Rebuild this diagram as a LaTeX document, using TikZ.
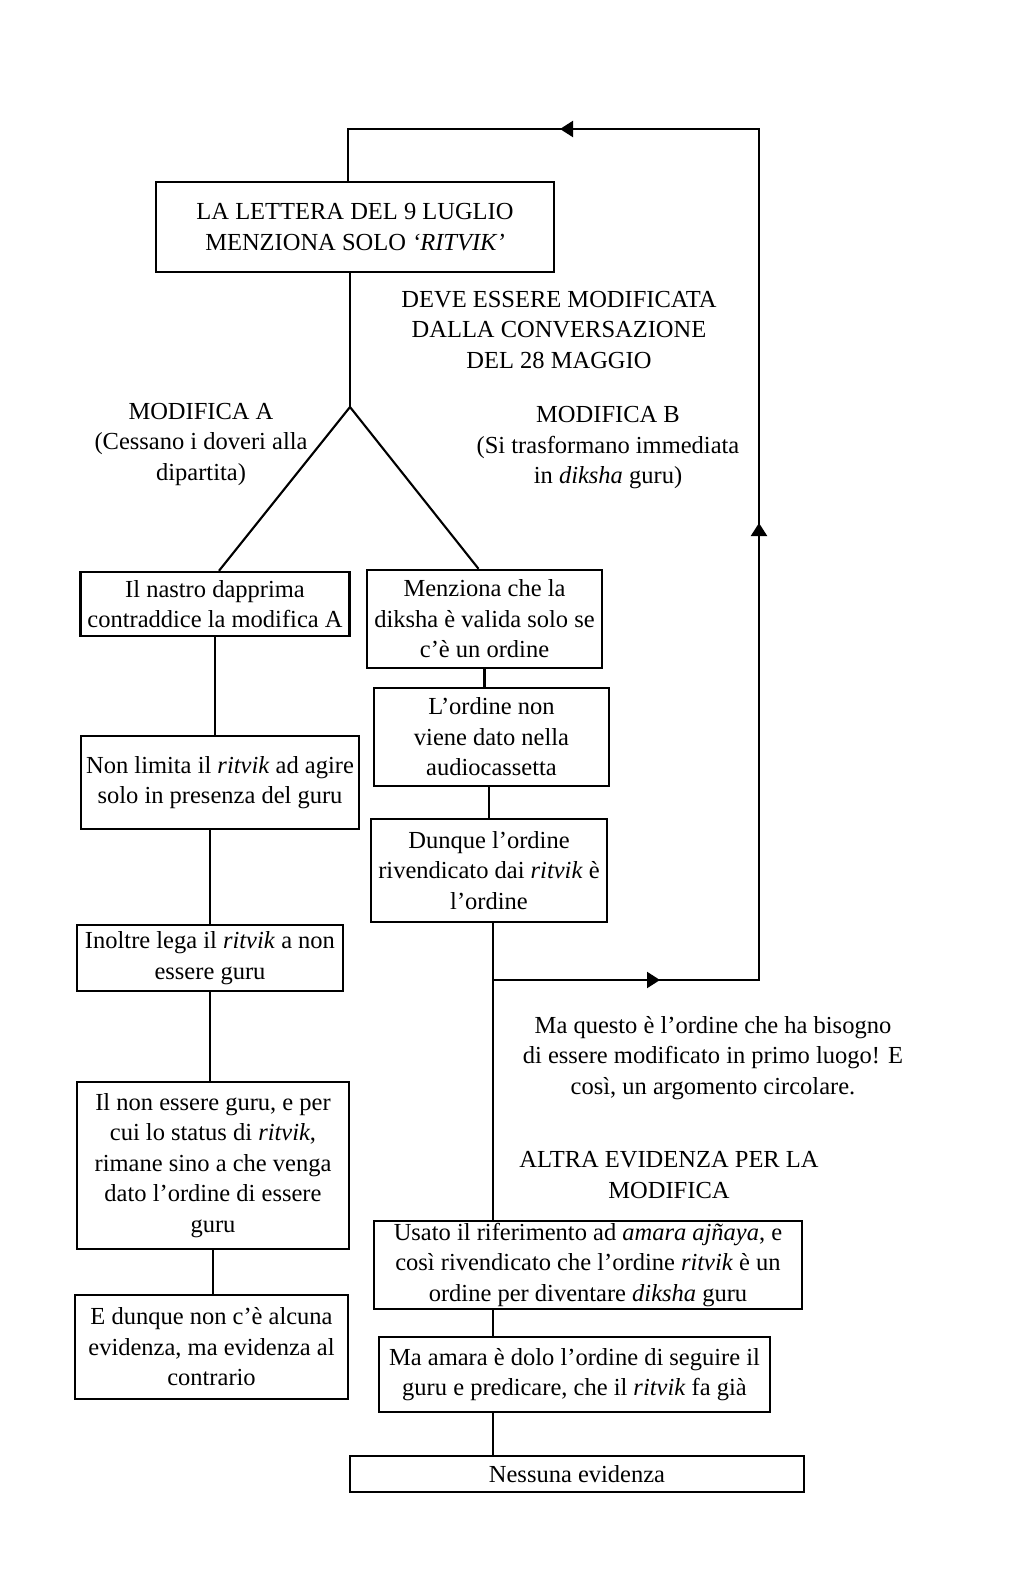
\documentclass[tikz,border=0pt]{standalone}
\usepackage{fontspec}
\setmainfont{Liberation Serif}
\usetikzlibrary{arrows.meta,decorations.markings}

\begin{document}
\begin{tikzpicture}[x=1pt, y=-1pt, line width=2.1pt, >={Triangle[length=13pt, width=16pt]},
  every node/.style={font=\fontsize{24.5pt}{30.5pt}\selectfont},
  box/.style={draw, line width=2.5pt, rectangle, inner sep=0pt, align=center},
  lbl/.style={align=center, inner sep=0pt},
  loopback/.style={postaction={decorate}, decoration={markings,
    mark=at position 167pt with {\arrow{>}},
    mark=at position 723pt with {\arrow{>}},
    mark=at position 1316pt with {\arrow{>}}}}]
\useasboundingbox (0,0) rectangle (1024,1575);

\node[box, minimum width=398, minimum height=90] (b0) at (355,227) {LA LETTERA DEL 9 LUGLIO\\MENZIONA SOLO \textit{‘RITVIK’}};
\node[lbl] (deve) at (559,330) {DEVE ESSERE MODIFICATA\\DALLA CONVERSAZIONE\\DEL 28 MAGGIO};
\node[lbl] (modA) at (201,444) {MODIFICA A\\(Cessano i doveri alla\\dipartita)};
\node[lbl] (modB) at (608,448) {MODIFICA B\\(Si trasformano immediata\\in \textit{diksha} guru)};

% ramo sinistro
\node[box, minimum width=269, minimum height=64] (a1) at (215,604) {Il nastro dapprima\\contraddice la modifica A};
\node[box, minimum width=278, minimum height=93] (a2) at (220,782.5) {Non limita il \textit{ritvik} ad agire\\solo in presenza del guru};
\node[box, minimum width=266, minimum height=66] (a3) at (210,958) {Inoltre lega il \textit{ritvik} a non\\essere guru};
\node[box, minimum width=272, minimum height=167] (a4) at (213,1165.5) {Il non essere guru, e per\\cui lo status di \textit{ritvik},\\rimane sino a che venga\\dato l’ordine di essere\\guru};
\node[box, minimum width=273, minimum height=104] (a5) at (211.5,1347) {E dunque non c’è alcuna\\evidenza, ma evidenza al\\contrario};

% ramo destro
\node[box, minimum width=235, minimum height=98] (r1) at (484.5,619) {Menziona che la\\diksha è valida solo se\\c’è un ordine};
\node[box, minimum width=235, minimum height=98] (r2) at (491.5,737) {L’ordine non\\viene dato nella\\audiocassetta};
\node[box, minimum width=236, minimum height=103] (r3) at (489,870.5) {Dunque l’ordine\\rivendicato dai \textit{ritvik} è\\l’ordine};
\node[lbl] (circ) at (713,1058) {Ma questo è l’ordine che ha bisogno\\di essere modificato in primo luogo! E\\così, un argomento circolare.};
\node[lbl] (altra) at (669,1175) {ALTRA EVIDENZA PER LA\\MODIFICA};
\node[box, minimum width=428, minimum height=88] (r4) at (588,1265) {Usato il riferimento ad \textit{amara ajñaya}, e\\così rivendicato che l’ordine \textit{ritvik} è un\\ordine per diventare \textit{diksha} guru};
\node[box, minimum width=391, minimum height=75] (r5) at (574.5,1374.5) {Ma amara è dolo l’ordine di seguire il\\guru e predicare, che il \textit{ritvik} fa già};
\node[box, minimum width=454, minimum height=36] (r6) at (577,1474) {Nessuna evidenza};

\coordinate (fork) at (350,407);
\coordinate (jn) at (493,980);
\coordinate (br) at (759,980);
\coordinate (tr) at (759,129);
\coordinate (tl) at (348,129);

\draw (b0.south -| fork) -- (fork);
\draw (fork) -- ([xshift=4pt]a1.north);
\draw (fork) -- ([xshift=-6pt]r1.north);

\draw (a1.south) -- (a1.south |- a2.north);
\draw (a2.south -| a3) -- (a3.north);
\draw (a3.south) -- (a3.south |- a4.north);
\draw (a4.south) -- (a4.south |- a5.north);

\draw (r1.south) -- (r1.south |- r2.north);
\draw (r2.south -| r3) -- (r3.north);
\draw (r3.south -| jn) -- (r4.north -| jn);
\draw (r4.south -| jn) -- (r5.north -| jn);
\draw (r5.south -| jn) -- (r6.north -| jn);

\draw[loopback] (jn) -- (br) -- (tr) -- (tl) -- (b0.north -| tl);
\end{tikzpicture}
\end{document}
